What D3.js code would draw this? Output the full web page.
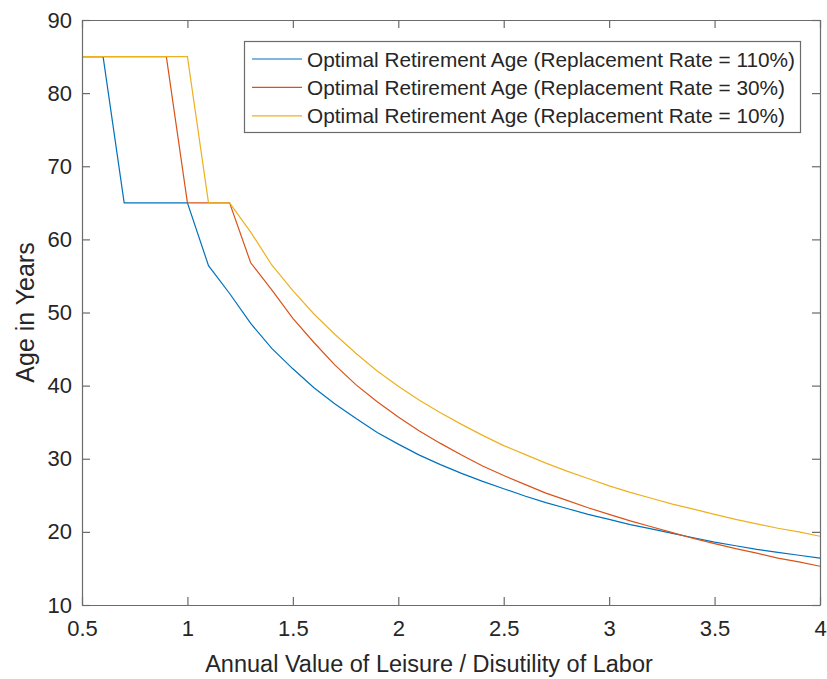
<!DOCTYPE html>
<html>
<head>
<meta charset="utf-8">
<script src="https://cdn.jsdelivr.net/npm/d3@7"></script>
<style>
  body { margin: 0; background: #fff; }
  text { font-family: "Liberation Sans", Arial, Helvetica, sans-serif; fill: #262626; }
</style>
</head>
<body>
<div id="chart"></div>
<script>
// x values: leisure / disutility ratio, step 0.1
var leisure = [0.5, 0.6, 0.7, 0.8, 0.9, 1.0, 1.1, 1.2, 1.3, 1.4, 1.5, 1.6, 1.7, 1.8, 1.9, 2.0,
               2.1, 2.2, 2.3, 2.4, 2.5, 2.6, 2.7, 2.8, 2.9, 3.0, 3.1, 3.2, 3.3, 3.4, 3.5,
               3.6, 3.7, 3.8, 3.9, 4.0];

var age_rr110 = [85, 85, 65, 65, 65, 65, 56.4, 52.6, 48.5, 45.1, 42.3, 39.7, 37.5, 35.5, 33.6, 32.0,
                 30.5, 29.2, 28.0, 26.9, 25.9, 24.9, 24.0, 23.2, 22.4, 21.7, 21.0, 20.4, 19.8, 19.2, 18.6,
                 18.1, 17.6, 17.2, 16.8, 16.4];

var age_rr30 = [85, 85, 85, 85, 85, 65, 65, 65, 56.8, 53.1, 49.2, 45.9, 42.8, 40.1, 37.8, 35.7,
                33.8, 32.1, 30.5, 29.0, 27.7, 26.5, 25.3, 24.3, 23.3, 22.4, 21.5, 20.7, 19.9, 19.1, 18.4,
                17.7, 17.1, 16.4, 15.9, 15.3];

var age_rr10 = [85, 85, 85, 85, 85, 85, 65, 65, 61.0, 56.5, 53.0, 49.8, 47.0, 44.4, 42.0, 39.9,
                38.0, 36.3, 34.7, 33.2, 31.8, 30.6, 29.4, 28.3, 27.3, 26.3, 25.4, 24.6, 23.8, 23.1, 22.4,
                21.7, 21.1, 20.5, 20.0, 19.4];

var series_names = ['Optimal Retirement Age (Replacement Rate = 110%)',
                    'Optimal Retirement Age (Replacement Rate = 30%)',
                    'Optimal Retirement Age (Replacement Rate = 10%)'];

var x_ticks = [0.5, 1, 1.5, 2, 2.5, 3, 3.5, 4];
var y_ticks = [10, 20, 30, 40, 50, 60, 70, 80, 90];

var colors = ['#0072BD', '#D95319', '#EDB120'];

width = 827;
height = 679;
var margin = {left: 82, right: 7, top: 20, bottom: 74};
var axis_color = '#6b6b6b';
var tick_len = 8;

var svg = d3.select('#chart').append('svg')
            .attr('width', width)
            .attr('height', height);

var x = d3.scaleLinear().domain([0.5, 4]).range([margin.left, width - margin.right]);
var y = d3.scaleLinear().domain([10, 90]).range([height - margin.bottom, margin.top]);

// lines
var all_series = [age_rr110, age_rr30, age_rr10];
var line = d3.line()
             .x(function(d, i){return x(leisure[i]);})
             .y(function(d){return y(d);});

svg.selectAll('path.series')
   .data(all_series)
   .enter()
   .append('path')
   .attr('class', 'series')
   .attr('d', line)
   .attr('fill', 'none')
   .attr('stroke', function(d, i){return colors[i];})
   .attr('stroke-width', 1.2);

// axes, ticks inside on all four sides
var xb = svg.append('g').attr('transform', 'translate(0,' + y(10) + ')')
            .call(d3.axisBottom(x).tickValues(x_ticks).tickSizeInner(-tick_len).tickSizeOuter(0)
                  .tickPadding(15).tickFormat(d3.format('')));
var xt = svg.append('g').attr('transform', 'translate(0,' + y(90) + ')')
            .call(d3.axisTop(x).tickValues(x_ticks).tickSizeInner(-tick_len).tickSizeOuter(0)
                  .tickFormat(''));
var yl = svg.append('g').attr('transform', 'translate(' + x(0.5) + ',0)')
            .call(d3.axisLeft(y).tickValues(y_ticks).tickSizeInner(-tick_len).tickSizeOuter(0)
                  .tickPadding(10));
var yr = svg.append('g').attr('transform', 'translate(' + x(4) + ',0)')
            .call(d3.axisRight(y).tickValues(y_ticks).tickSizeInner(-tick_len).tickSizeOuter(0)
                  .tickFormat(''));

[xb, xt, yl, yr].forEach(function(g){
    g.select('.domain').attr('stroke', axis_color).attr('stroke-width', 1.2);
    g.selectAll('.tick line').attr('stroke', axis_color).attr('stroke-width', 1.2);
    g.selectAll('.tick text').attr('fill', '#262626')
     .style('font-size', '22px')
     .style('font-family', '"Liberation Sans", Arial, sans-serif');
});

// axis labels
svg.append('text')
   .attr('x', (x(0.5) + x(4)) / 2 - 22)
   .attr('y', 672)
   .attr('text-anchor', 'middle')
   .style('font-size', '23.5px')
   .text('Annual Value of Leisure / Disutility of Labor');

svg.append('text')
   .attr('transform', 'translate(34,' + y(50) + ') rotate(-90)')
   .attr('text-anchor', 'middle')
   .style('font-size', '25px')
   .text('Age in Years');

// legend
var leg_x = 244.5, leg_y = 41.5, leg_w = 556, leg_h = 91, row_h = 28.4;
var legend = svg.append('g');
legend.append('rect')
      .attr('x', leg_x).attr('y', leg_y)
      .attr('width', leg_w).attr('height', leg_h)
      .attr('fill', '#fff')
      .attr('stroke', axis_color)
      .attr('stroke-width', 1.2);

var rows = legend.selectAll('g.row')
                 .data(series_names)
                 .enter()
                 .append('g')
                 .attr('transform', function(d, i){return 'translate(0,' + (59 + i * row_h) + ')';});

rows.append('line')
    .attr('x1', 252).attr('x2', 302)
    .attr('y1', 0).attr('y2', 0)
    .attr('stroke', function(d, i){return colors[i];})
    .attr('stroke-width', 1.2);

rows.append('text')
    .attr('x', 307)
    .attr('y', 7.5)
    .style('font-size', '20.8px')
    .attr('fill', '#000')
    .text(function(d){return d;});
</script>
</body>
</html>
